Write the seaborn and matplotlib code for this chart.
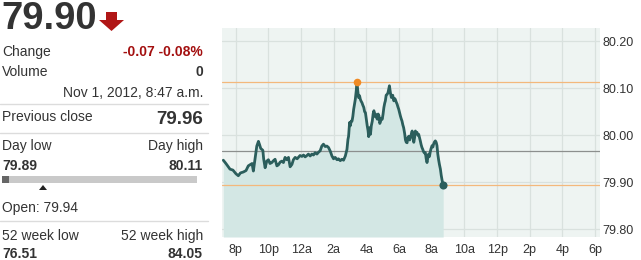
import numpy as np
import pandas as pd
import matplotlib
matplotlib.use("Agg")
import matplotlib.pyplot as plt
import seaborn as sns
from matplotlib.patches import Polygon, Rectangle

# ---------------- data ----------------
# hours since 7:00 p.m. (Oct 31, 2012)
hours = [0.24, 0.40, 0.65, 0.83, 1.02, 1.16, 1.29, 1.47, 1.63, 1.77, 1.91, 2.00, 2.08, 2.18, 2.29,
         2.39, 2.46, 2.53, 2.66, 2.71, 2.80, 2.90, 3.00, 3.10, 3.21, 3.31, 3.41, 3.52, 3.61, 3.72,
         3.82, 3.92, 4.02, 4.13, 4.23, 4.33, 4.44, 4.53, 4.64, 4.76, 4.94, 5.05, 5.15, 5.25, 5.36,
         5.45, 5.56, 5.66, 5.76, 5.86, 5.97, 6.07, 6.17, 6.27, 6.37, 6.48, 6.58, 6.68, 6.79, 6.89,
         6.99, 7.09, 7.20, 7.29, 7.40, 7.50, 7.60, 7.71, 7.81, 7.87, 7.91, 7.97, 8.01, 8.07, 8.12,
         8.17, 8.22, 8.27, 8.32, 8.38, 8.42, 8.47, 8.52, 8.58, 8.63, 8.68, 8.73, 8.78, 8.84, 8.89,
         8.94, 8.99, 9.05, 9.10, 9.14, 9.20, 9.25, 9.30, 9.36, 9.41, 9.46, 9.51, 9.56, 9.61, 9.67,
         9.72, 9.77, 9.82, 9.87, 9.92, 9.97, 10.02, 10.07, 10.12, 10.16, 10.21, 10.27, 10.32, 10.37,
         10.41, 10.47, 10.53, 10.61, 10.68, 10.73, 10.77, 10.83, 10.88, 10.93, 10.98, 11.03, 11.08,
         11.13, 11.18, 11.23, 11.28, 11.34, 11.39, 11.44, 11.49, 11.54, 11.60, 11.65, 11.70, 11.75,
         11.80, 11.85, 11.90, 11.95, 12.00, 12.05, 12.10, 12.15, 12.20, 12.25, 12.30, 12.35, 12.40,
         12.45, 12.50, 12.56, 12.61, 12.66, 12.71, 12.76, 12.81, 12.86, 12.91, 12.96, 13.02, 13.07,
         13.11, 13.17, 13.22, 13.27, 13.32, 13.37, 13.42, 13.47, 13.53, 13.58, 13.63, 13.70]
prices = [79.947, 79.940, 79.928, 79.926, 79.918, 79.914, 79.920, 79.922, 79.925, 79.935, 79.938,
          79.940, 79.924, 79.950, 79.977, 79.987, 79.980, 79.972, 79.968, 79.950, 79.931, 79.945,
          79.948, 79.940, 79.942, 79.946, 79.949, 79.935, 79.937, 79.943, 79.945, 79.942, 79.953,
          79.948, 79.953, 79.933, 79.938, 79.948, 79.953, 79.950, 79.957, 79.955, 79.958, 79.954,
          79.957, 79.960, 79.956, 79.960, 79.958, 79.963, 79.960, 79.964, 79.967, 79.977, 79.981,
          79.976, 79.977, 79.974, 79.966, 79.956, 79.950, 79.953, 79.948, 79.950, 79.946, 79.949,
          79.947, 79.956, 79.970, 79.991, 79.998, 80.027, 80.020, 80.030, 80.030, 80.040, 80.055,
          80.066, 80.076, 80.095, 80.114, 80.095, 80.080, 80.084, 80.076, 80.072, 80.069, 80.064,
          80.059, 80.050, 80.048, 80.035, 80.020, 80.010, 79.997, 80.016, 80.002, 80.020, 80.030,
          80.045, 80.052, 80.040, 80.045, 80.038, 80.034, 80.045, 80.041, 80.025, 80.030, 80.036,
          80.034, 80.045, 80.059, 80.068, 80.073, 80.085, 80.087, 80.090, 80.098, 80.105, 80.090,
          80.080, 80.085, 80.073, 80.078, 80.076, 80.070, 80.066, 80.060, 80.055, 80.048, 80.041,
          80.035, 80.030, 80.022, 80.016, 80.004, 79.990, 79.985, 79.984, 79.995, 79.998, 79.990,
          79.995, 80.003, 80.009, 79.998, 79.985, 79.995, 80.009, 80.004, 80.006, 80.000, 80.002,
          79.995, 79.988, 79.980, 79.974, 79.970, 79.965, 79.962, 79.963, 79.950, 79.942, 79.952,
          79.960, 79.955, 79.965, 79.972, 79.978, 79.975, 79.981, 79.986, 79.988, 79.985, 79.978,
          79.960, 79.948, 79.938, 79.928, 79.915, 79.905, 79.894]

x_tick_pos = [1, 3, 5, 7, 9, 11, 13, 15, 17, 19, 21, 23]
x_tick_labels = ["8p", "10p", "12a", "2a", "4a", "6a", "8a", "10a", "12p", "2p", "4p", "6p"]
y_ticks = [79.80, 79.90, 80.00, 80.10, 80.20]
y_tick_labels = ["79.80", "79.90", "80.00", "80.10", "80.20"]

last_price = "79.90"
change = "-0.07 -0.08%"
volume = "0"
timestamp = "Nov 1, 2012, 8:47 a.m."
prev_close_text = "79.96"
prev_close_level = 79.966
day_low_level = 79.894
day_high_level = 80.114
day_low_text = "79.89"
day_high_text = "80.11"
open_text = "Open: 79.94"
wk52_low = "76.51"
wk52_high = "84.05"

df = pd.DataFrame({"hour": hours, "price": prices})

# ---------------- figure ----------------
sns.set_theme(style="white")
plt.rcParams["font.family"] = ["Liberation Sans", "DejaVu Sans"]

W, H = 641, 260
fig = plt.figure(figsize=(W / 100, H / 100), dpi=100)
fig.patch.set_facecolor("white")

# chart axes (pixels: x 222..600, y 28..237)
ax = fig.add_axes([222 / W, 1 - 237 / H, (600 - 222) / W, (237 - 28) / H])
ax.set_facecolor("#eef4f2")
ymin, ymax = 79.784, 80.2276
ax.set_xlim(0.16, 23.3)
ax.set_ylim(ymin, ymax)

for xv in x_tick_pos:
    ax.axvline(xv, color="#d9e1de", lw=0.9, zorder=0)
for yv in y_ticks:
    ax.axhline(yv, color="#d9e1de", lw=0.9, zorder=0)

ax.fill_between(df["hour"], df["price"], ymin, color="#d3e7e4", lw=0, zorder=1)
ax.axhline(day_high_level, color="#f3b87c", lw=0.9, zorder=2)
ax.axhline(day_low_level, color="#f3b87c", lw=0.9, zorder=2)
ax.axhline(prev_close_level, color="#8c8f8e", lw=0.9, zorder=2)

sns.lineplot(data=df, x="hour", y="price", ax=ax, color="#2b5e5c", lw=2.0, zorder=3)

imax = int(np.argmax(prices))
ax.scatter([hours[imax]], [prices[imax]], s=30, color="#f08a24", zorder=4, lw=0)
ax.scatter([hours[-1]], [prices[-1]], s=34, color="#2b5e5c", zorder=4, lw=0)

ax.set_xticks(x_tick_pos)
ax.set_xticklabels(x_tick_labels)
ax.set_yticks(y_ticks)
ax.set_yticklabels(y_tick_labels)
ax.yaxis.tick_right()
ax.tick_params(axis="both", length=0, labelsize=9, labelcolor="#333333")
ax.tick_params(axis="x", pad=5)
ax.tick_params(axis="y", pad=2)
ax.set_xlabel("")
ax.set_ylabel("")
for s in ax.spines.values():
    s.set_visible(False)

# ---------------- left panel (pixel coordinates overlay) ----------------
ov = fig.add_axes([0, 0, 1, 1], zorder=-1)
ov.set_xlim(0, W)
ov.set_ylim(H, 0)
ov.axis("off")

dark = "#333333"
red = "#a30f0f"
ov.text(1, 19, last_price, fontsize=27.5, fontweight="bold", color=dark, va="center", ha="left")
ov.add_patch(Polygon([[106, 12], [117, 12], [117, 20], [124, 20], [111.5, 31], [99, 20], [106, 20]],
                     closed=True, color="#b01616", lw=0))

ov.text(2, 52, "Change", fontsize=10, color=dark, va="center")
ov.text(203, 52, change, fontsize=10, fontweight="bold", color=red, va="center", ha="right")
ov.text(2, 72, "Volume", fontsize=10, color=dark, va="center")
ov.text(203, 72, volume, fontsize=10, fontweight="bold", color=dark, va="center", ha="right")
ov.text(203, 93, timestamp, fontsize=10, color=dark, va="center", ha="right")
ov.plot([0, 208], [104, 104], color="#dcdcdc", lw=1)

ov.text(2, 117, "Previous close", fontsize=10, color=dark, va="center")
ov.text(203, 119, prev_close_text, fontsize=13.5, fontweight="bold", color=dark, va="center", ha="right")
ov.plot([0, 208], [133, 133], color="#dcdcdc", lw=1)

ov.text(2, 146, "Day low", fontsize=10, color=dark, va="center")
ov.text(203, 146, "Day high", fontsize=10, color=dark, va="center", ha="right")
ov.text(2, 166, day_low_text, fontsize=10, fontweight="bold", color=dark, va="center")
ov.text(203, 166, day_high_text, fontsize=10, fontweight="bold", color=dark, va="center", ha="right")
ov.add_patch(Rectangle((2, 176), 195, 6.5, color="#c9c9c9", lw=0))
ov.add_patch(Rectangle((2, 176), 7, 6.5, color="#666666", lw=0))
ov.add_patch(Polygon([[39, 190], [47, 190], [43, 185]], closed=True, color="#222222", lw=0))
ov.text(2, 208, open_text, fontsize=10, color=dark, va="center")
ov.plot([0, 208], [221, 221], color="#dcdcdc", lw=1)

ov.text(2, 236, "52 week low", fontsize=10, color=dark, va="center")
ov.text(203, 236, "52 week high", fontsize=10, color=dark, va="center", ha="right")
ov.text(2, 254, wk52_low, fontsize=10, fontweight="bold", color=dark, va="center")
ov.text(203, 254, wk52_high, fontsize=10, fontweight="bold", color=dark, va="center", ha="right")

fig.savefig("out.png", dpi=100, facecolor="white")
